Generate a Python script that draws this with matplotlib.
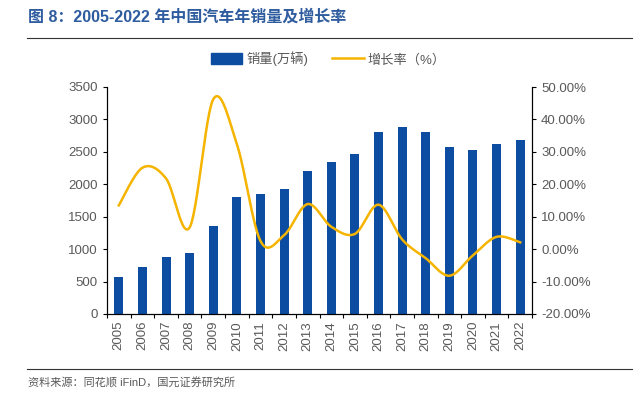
import numpy as np
import matplotlib.pyplot as plt
from matplotlib.patches import Patch
from matplotlib.lines import Line2D

plt.rcParams['font.family'] = ['Liberation Sans', 'Noto Sans CJK SC', 'DejaVu Sans']

# 数据
years = ['2005', '2006', '2007', '2008', '2009', '2010', '2011', '2012', '2013',
         '2014', '2015', '2016', '2017', '2018', '2019', '2020', '2021', '2022']
sales = [576, 722, 879, 938, 1364, 1806, 1851, 1931, 2198,
         2349, 2460, 2803, 2888, 2808, 2577, 2531, 2628, 2686]
growth = [13.5, 25.1, 21.8, 6.7, 46.2, 32.4, 2.5, 4.3, 13.9,
          6.9, 4.7, 13.7, 3.0, -2.8, -8.2, -1.9, 3.8, 2.1]

BLUE = '#0D4DA1'
GOLD = '#F5B400'
GREY = '#595959'


def smooth(xs, ys, n=30):
    # bezier smoothing like excel's smoothed line
    xs = np.asarray(xs, float)
    ys = np.asarray(ys, float)
    px = np.concatenate([[xs[0]], xs, [xs[-1]]])
    py = np.concatenate([[ys[0]], ys, [ys[-1]]])
    ox, oy = [], []
    t = np.linspace(0, 1, n)
    for i in range(1, len(px) - 2):
        p0 = np.array([px[i], py[i]])
        p3 = np.array([px[i + 1], py[i + 1]])
        c1 = p0 + (np.array([px[i + 1], py[i + 1]]) - np.array([px[i - 1], py[i - 1]])) / 6
        c2 = p3 - (np.array([px[i + 2], py[i + 2]]) - np.array([px[i], py[i]])) / 6
        b = ((1 - t)[:, None] ** 3 * p0 + 3 * ((1 - t) ** 2 * t)[:, None] * c1
             + 3 * ((1 - t) * t ** 2)[:, None] * c2 + (t ** 3)[:, None] * p3)
        ox.extend(b[:, 0])
        oy.extend(b[:, 1])
    return ox, oy


fig = plt.figure(figsize=(6.4, 3.98), dpi=100)
ax = fig.add_axes([107 / 640, 1 - 314 / 398, 425 / 640, 227 / 398])
x = np.arange(len(years))
ax.bar(x, sales, width=0.38, color=BLUE, zorder=2)
ax.set_xlim(-0.5, len(years) - 0.5)
ax.set_ylim(0, 3500)
ax.set_yticks(range(0, 3501, 500))
ax.set_xticks(x)
ax.set_xticklabels(years, rotation=90)
ax.set_xticks(np.arange(-0.5, len(years), 1), minor=True)
ax.tick_params(axis='x', which='major', length=0, pad=5, labelsize=9.5, labelcolor=GREY)
ax.tick_params(axis='x', which='minor', length=3, direction='out', width=0.8)
ax.tick_params(axis='y', length=3, width=0.8, labelsize=9.5, labelcolor=GREY)
ax.spines['top'].set_visible(False)
for s in ['left', 'bottom', 'right']:
    ax.spines[s].set_linewidth(0.8)

ax2 = ax.twinx()
sx, sy = smooth(x, growth)
ax2.plot(sx, sy, color=GOLD, lw=1.8, zorder=3)
ax2.set_ylim(-20, 50)
ax2.set_yticks(range(-20, 51, 10))
ax2.set_yticklabels(['%.2f%%' % v for v in range(-20, 51, 10)])
ax2.tick_params(axis='y', length=3, width=0.8, labelsize=9.5, labelcolor=GREY)
ax2.spines['top'].set_visible(False)
ax2.spines['right'].set_linewidth(0.8)

handles = [Patch(color=BLUE), Line2D([0], [0], color=GOLD, lw=1.8)]
fig.legend(handles, ['销量(万辆)', '增长率（%）'], loc='center', bbox_to_anchor=(0.513, 1 - 59 / 398),
           ncol=2, frameon=False, fontsize=9.5, labelcolor=GREY, handlelength=2.4,
           handleheight=0.9, columnspacing=1.8, handletextpad=0.3)

fig.text(28 / 640, 1 - 17 / 398, '图 8：2005-2022 年中国汽车年销量及增长率', color='#2E5C9E',
         fontsize=11.5, fontweight='bold', va='center', ha='left')
fig.add_artist(Line2D([27 / 640, 632 / 640], [1 - 38 / 398] * 2, color='#333333', lw=0.8))
fig.add_artist(Line2D([27 / 640, 632 / 640], [1 - 369 / 398] * 2, color='#333333', lw=0.8))
fig.text(28 / 640, 1 - 383 / 398, '资料来源：同花顺 iFinD，国元证券研究所', color=GREY,
         fontsize=8, va='center', ha='left')

fig.savefig('out.png', dpi=100)
